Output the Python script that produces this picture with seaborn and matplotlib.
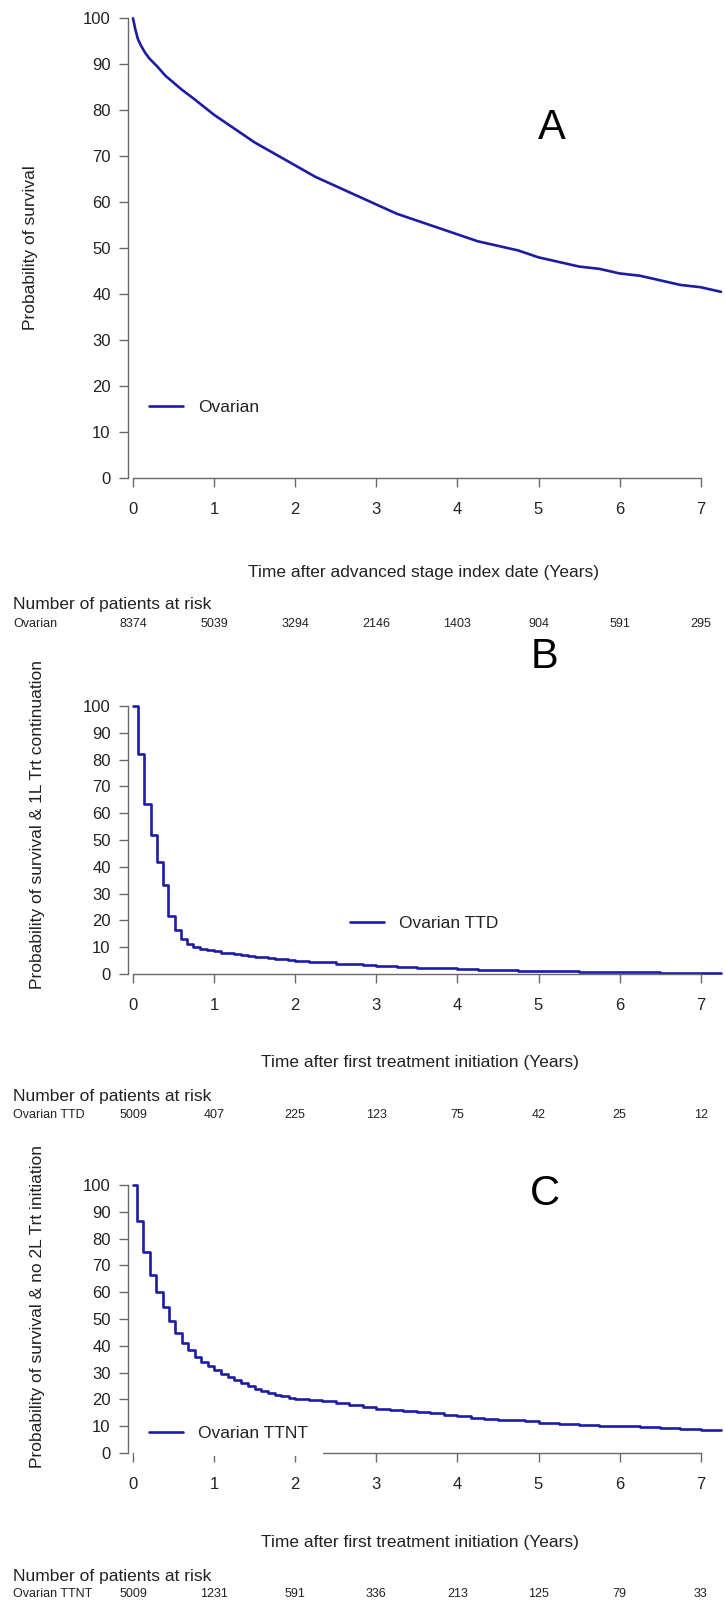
import matplotlib

matplotlib.use("Agg")

import matplotlib.pyplot as plt
import matplotlib.transforms as mtransforms
import pandas as pd
import seaborn as sns

# --- data ------------------------------------------------------------------
years = [0, 1, 2, 3, 4, 5, 6, 7]

os_time = [0, 0.03, 0.06, 0.1, 0.15, 0.2, 0.3, 0.4, 0.5, 0.6, 0.75, 1.0, 1.25, 1.5, 1.75,
           2.0, 2.25, 2.5, 2.75, 3.0, 3.25, 3.5, 3.75, 4.0, 4.25, 4.5, 4.75, 5.0, 5.25,
           5.5, 5.75, 6.0, 6.25, 6.5, 6.75, 7.0, 7.25]
os_pct = [100, 97.5, 95.5, 94, 92.5, 91.3, 89.5, 87.5, 86, 84.5, 82.5, 79, 76, 73, 70.5,
          68, 65.5, 63.5, 61.5, 59.5, 57.5, 56, 54.5, 53, 51.5, 50.5, 49.5, 48, 47,
          46, 45.5, 44.5, 44, 43, 42, 41.5, 40.5]

ttd_time = [0, 0.058, 0.136, 0.218, 0.292, 0.366, 0.436, 0.518, 0.592, 0.66, 0.74, 0.83,
            0.91, 1.0, 1.083, 1.167, 1.25, 1.333, 1.417, 1.5, 1.583, 1.667, 1.75, 1.833,
            1.917, 2.0, 2.167, 2.333, 2.5, 2.667, 2.833, 3.0, 3.25, 3.5, 3.75, 4.0,
            4.25, 4.5, 4.75, 5.0, 5.5, 6.0, 6.5, 7.0, 7.25]
ttd_pct = [100, 82, 63.3, 51.8, 41.8, 33.3, 21.7, 16.4, 12.9, 11.1, 9.9, 9.2,
           8.8, 8.4, 8.0, 7.7, 7.4, 7.1, 6.8, 6.5, 6.2, 6.0, 5.7, 5.5,
           5.2, 5.0, 4.6, 4.3, 3.9, 3.6, 3.3, 3.0, 2.7, 2.4, 2.1, 1.9,
           1.6, 1.4, 1.2, 1.0, 0.8, 0.6, 0.4, 0.3, 0.3]

ttnt_time = [0, 0.045, 0.127, 0.21, 0.284, 0.366, 0.444, 0.518, 0.6, 0.68, 0.76, 0.84,
             0.92, 1.0, 1.08, 1.17, 1.25, 1.33, 1.42, 1.5, 1.58, 1.67, 1.75, 1.83, 1.92,
             2.0, 2.167, 2.333, 2.5, 2.667, 2.833, 3.0, 3.167, 3.333, 3.5, 3.667, 3.833,
             4.0, 4.167, 4.333, 4.5, 4.667, 4.833, 5.0, 5.25, 5.5, 5.75, 6.0, 6.25,
             6.5, 6.75, 7.0, 7.25]
ttnt_pct = [100, 86.5, 75, 66.5, 60, 54.5, 49.2, 44.6, 41, 38.4, 36, 34,
            32.5, 31, 29.5, 28.3, 27.2, 26, 25, 24, 23.3, 22.5, 21.8, 21.2, 20.7,
            20.3, 19.8, 19.3, 18.6, 17.8, 17.1, 16.5, 16.0, 15.6, 15.2, 14.8, 14.3,
            13.8, 13.2, 12.8, 12.5, 12.3, 11.8, 11.3, 10.9, 10.5, 10.2, 9.9, 9.6,
            9.2, 8.8, 8.6, 8.5]

risk_os = [8374, 5039, 3294, 2146, 1403, 904, 591, 295]
risk_ttd = [5009, 407, 225, 123, 75, 42, 25, 12]
risk_ttnt = [5009, 1231, 591, 336, 213, 125, 79, 33]

# --- styling ---------------------------------------------------------------
sns.set_theme(style="ticks")
plt.rcParams["font.family"] = ["Liberation Sans", "DejaVu Sans"]

W, H = 725, 1603
X0, PX_YR = 133.0, 81.1
LINE = "#1c1ca4"
AXC = "#6a6a6a"
TXT = "#222222"

fig = plt.figure(figsize=(W / 100, H / 100), dpi=100)


def fx(px):
    return px / W


def fy(py):
    return 1 - py / H


def make_axes(top, bottom, y100, y0):
    left, right = 128, 725
    ax = fig.add_axes([fx(left), fy(bottom), (right - left) / W, (bottom - top) / H])
    ax.set_xlim((left - X0) / PX_YR, (right - X0) / PX_YR)
    s = (y0 - y100) / 100.0
    ax.set_ylim(-(bottom - y0) / s, 100 + (y100 - top) / s)
    ax.set_facecolor("white")
    for side in ["top", "right"]:
        ax.spines[side].set_visible(False)
    ax.spines["left"].set_bounds(0, 100)
    ax.spines["bottom"].set_position(("data", 0))
    ax.spines["bottom"].set_bounds(0, 7)
    for side in ["left", "bottom"]:
        ax.spines[side].set_color(AXC)
        ax.spines[side].set_linewidth(1.0)
    ax.set_xticks(years)
    ax.set_yticks(range(0, 101, 10))
    ax.tick_params(axis="both", direction="out", length=6.5, width=1.0, color=AXC,
                   labelsize=12, labelcolor=TXT)
    ax.tick_params(axis="x", pad=11)
    ax.tick_params(axis="y", pad=6)
    ax.set_xlabel("")
    ax.set_ylabel("")
    return ax


def add_curve(ax, t, v, label, steps, leg_x, leg_y):
    df = pd.DataFrame({"time": t, "pct": v})
    kw = {"drawstyle": "steps-post"} if steps else {}
    sns.lineplot(data=df, x="time", y="pct", ax=ax, color=LINE, linewidth=1.9,
                 label=label, estimator=None, **kw)
    leg = ax.legend(loc="center left", bbox_to_anchor=(leg_x, leg_y),
                    bbox_transform=ax.transData, borderaxespad=0, borderpad=0.85,
                    handlelength=2.0, handletextpad=0.85, fontsize=12.5,
                    frameon=True, fancybox=False, framealpha=1)
    leg.set_zorder(6)
    leg.get_frame().set_facecolor("white")
    leg.get_frame().set_edgecolor("none")
    for txt in leg.get_texts():
        txt.set_color(TXT)
    ax.set_xlabel("")
    ax.set_ylabel("")


def add_risk(ax, title_y, row_y, name, counts):
    fig.text(fx(13), fy(title_y), "Number of patients at risk", ha="left", va="center",
             fontsize=12.5, color=TXT)
    fig.text(fx(13), fy(row_y), name, ha="left", va="center", fontsize=9, color=TXT)
    trans = mtransforms.blended_transform_factory(ax.transData, fig.transFigure)
    for t, n in zip(years, counts):
        ax.text(t, fy(row_y), str(n), transform=trans, ha="center", va="center",
                fontsize=9, color=TXT)


# Panel A
ax_a = make_axes(8, 486, 18.3, 478)
add_curve(ax_a, os_time, os_pct, "Ovarian", False, 0.012, 15.4)
fig.text(fx(31), fy(248), "Probability of survival", rotation=90, ha="center",
         va="center", fontsize=12.5, color=TXT)
fig.text(fx(424), fy(572), "Time after advanced stage index date (Years)", ha="center",
         va="center", fontsize=12.5, color=TXT)
fig.text(fx(552), fy(128), "A", ha="center", va="center", fontsize=30, color="black")
add_risk(ax_a, 605, 624, "Ovarian", risk_os)

# Panel B
ax_b = make_axes(696, 982, 706, 974)
add_curve(ax_b, ttd_time, ttd_pct, "Ovarian TTD", True, 2.49, 19)
fig.text(fx(38), fy(825), "Probability of survival & 1L Trt continuation", rotation=90,
         ha="center", va="center", fontsize=12.5, color=TXT)
fig.text(fx(420), fy(1063), "Time after first treatment initiation (Years)", ha="center",
         va="center", fontsize=12.5, color=TXT)
fig.text(fx(545), fy(657), "B", ha="center", va="center", fontsize=30, color="black")
add_risk(ax_b, 1097, 1115, "Ovarian TTD", risk_ttd)

# Panel C
ax_c = make_axes(1175, 1461, 1185, 1453)
add_curve(ax_c, ttnt_time, ttnt_pct, "Ovarian TTNT", True, 0.012, 7.2)
fig.text(fx(38), fy(1307), "Probability of survival & no 2L Trt initiation", rotation=90,
         ha="center", va="center", fontsize=12.5, color=TXT)
fig.text(fx(420), fy(1542), "Time after first treatment initiation (Years)", ha="center",
         va="center", fontsize=12.5, color=TXT)
fig.text(fx(545), fy(1194), "C", ha="center", va="center", fontsize=30, color="black")
add_risk(ax_c, 1577, 1594, "Ovarian TTNT", risk_ttnt)

fig.savefig("out.png", dpi=100, facecolor="white")
plt.close(fig)
